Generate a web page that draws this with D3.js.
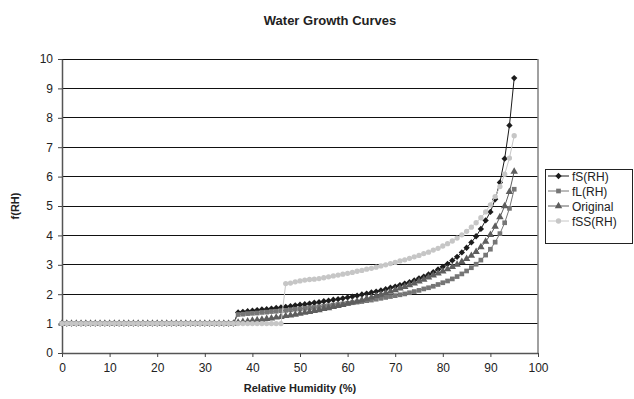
<!DOCTYPE html>
<html>
<head>
<meta charset="utf-8">
<script src="https://cdn.jsdelivr.net/npm/d3@7"></script>
<style>
  html, body { margin: 0; padding: 0; background: #ffffff; }
  svg { display: block; font-family: "Liberation Sans", Arial, sans-serif; }
</style>
</head>
<body>
<svg id="chart" width="634" height="399"></svg>
<script>
// Relative humidity (%) at which each growth factor is tabulated
const relHumidity = [
  0,1,2,3,4,5,6,7,8,9,10,11,12,13,14,15,16,17,18,19,
  20,21,22,23,24,25,26,27,28,29,30,31,32,33,34,35,36,37,38,39,
  40,41,42,43,44,45,46,47,48,49,50,51,52,53,54,55,56,57,58,59,
  60,61,62,63,64,65,66,67,68,69,70,71,72,73,74,75,76,77,78,79,
  80,81,82,83,84,85,86,87,88,89,90,91,92,93,94,95
];

// Small sulfate/nitrate growth factor
const fS = [
  1,1,1,1,1,1,1,1,1,1,1,1,1,1,1,1,1,1,1,1,1,1,1,1,1,1,1,1,1,1,1,1,1,1,1,1,1,
  1.38,1.40,1.42,1.44,1.46,1.48,1.49,1.51,1.53,1.55,1.57,1.59,1.62,1.64,1.66,1.68,
  1.71,1.73,1.76,1.78,1.81,1.83,1.86,1.89,1.92,1.95,1.99,2.02,2.06,2.09,2.13,2.17,
  2.22,2.26,2.31,2.36,2.41,2.47,2.54,2.60,2.67,2.75,2.84,2.93,3.03,3.15,3.27,3.42,
  3.58,3.76,3.97,4.22,4.51,4.80,5.23,5.80,6.61,7.74,9.35
];

// Large sulfate/nitrate growth factor
const fL = [
  1,1,1,1,1,1,1,1,1,1,1,1,1,1,1,1,1,1,1,1,1,1,1,1,1,1,1,1,1,1,1,1,1,1,1,1,1,
  1.31,1.32,1.34,1.35,1.36,1.38,1.39,1.41,1.42,1.44,1.45,1.47,1.49,1.50,1.52,1.54,
  1.55,1.57,1.59,1.61,1.63,1.65,1.67,1.69,1.71,1.73,1.75,1.78,1.80,1.83,1.86,1.89,
  1.92,1.95,1.98,2.01,2.05,2.09,2.13,2.18,2.22,2.27,2.33,2.39,2.45,2.52,2.60,2.69,
  2.79,2.90,3.02,3.16,3.33,3.53,3.77,4.06,4.43,4.92,5.57
];

// Original growth curve
const fOriginal = [
  1,1,1,1,1,1,1,1,1,1,1,1,1,1,1,1,1,1,1,1,1,1,1,1,1,1,1,1,1,1,1,1,1,1,1,1,1,
  1.04,1.06,1.08,1.10,1.12,1.14,1.16,1.18,1.21,1.23,1.26,1.28,1.31,1.34,1.37,1.40,
  1.43,1.46,1.50,1.53,1.57,1.60,1.64,1.68,1.72,1.76,1.80,1.85,1.89,1.94,1.99,2.04,
  2.09,2.14,2.20,2.25,2.31,2.37,2.44,2.50,2.57,2.64,2.71,2.78,2.85,2.93,3.01,3.10,
  3.20,3.31,3.44,3.60,3.79,4.02,4.30,4.62,5.00,5.48,6.17
];

// Sea salt growth factor
const fSS = [
  1,1,1,1,1,1,1,1,1,1,1,1,1,1,1,1,1,1,1,1,1,1,1,1,1,1,1,1,1,1,1,1,1,1,1,1,1,
  1,1,1,1,1,1,1,1,1,1,
  2.36,2.38,2.42,2.45,2.48,2.50,2.51,2.53,2.56,2.59,2.62,2.65,2.68,2.71,2.74,2.78,
  2.81,2.85,2.88,2.92,2.96,3.00,3.04,3.08,3.13,3.17,3.22,3.27,3.32,3.38,3.43,3.50,
  3.56,3.64,3.72,3.81,3.91,4.02,4.14,4.28,4.43,4.60,4.80,5.04,5.32,5.66,6.08,6.63,7.39
];

const seriesNames = ["fS(RH)", "fL(RH)", "Original", "fSS(RH)"];
const xTicks = [0,10,20,30,40,50,60,70,80,90,100];
const yTicks = [0,1,2,3,4,5,6,7,8,9,10];

// Square diamond (a square turned 45 degrees)
const squareDiamond = {
  draw(context, size) {
    const r = Math.sqrt(size / 2);
    context.moveTo(0, -r);
    context.lineTo(r, 0);
    context.lineTo(0, r);
    context.lineTo(-r, 0);
    context.closePath();
  }
};

const series = [
  { name: seriesNames[0], values: fS,        color: "#1c1c1c", symbol: squareDiamond,    size: 20 },
  { name: seriesNames[1], values: fL,        color: "#767676", symbol: d3.symbolSquare,   size: 22 },
  { name: seriesNames[2], values: fOriginal, color: "#5e5e5e", symbol: d3.symbolTriangle, size: 24 },
  { name: seriesNames[3], values: fSS,       color: "#c6c6c6", symbol: d3.symbolCircle,   size: 22 }
];

const svg = d3.select("#chart");
const plot = { left: 62, right: 538, top: 59, bottom: 353 };

const x = d3.scaleLinear().domain([0, 100]).range([plot.left, plot.right]);
const y = d3.scaleLinear().domain([0, 10]).range([plot.bottom, plot.top]);

// Title
svg.append("text")
  .attr("x", 330).attr("y", 25)
  .attr("text-anchor", "middle")
  .attr("font-size", 13).attr("font-weight", "bold")
  .attr("fill", "#222")
  .text("Water Growth Curves");

// Horizontal gridlines
svg.append("g")
  .selectAll("line")
  .data(yTicks.filter(t => t > 0))
  .join("line")
  .attr("x1", plot.left).attr("x2", plot.right)
  .attr("y1", d => y(d)).attr("y2", d => y(d))
  .attr("stroke", "#111").attr("stroke-width", 1)
  .attr("shape-rendering", "crispEdges");

// Right edge of plot area
svg.append("line")
  .attr("x1", plot.right).attr("x2", plot.right)
  .attr("y1", plot.top).attr("y2", plot.bottom)
  .attr("stroke", "#808080").attr("stroke-width", 1.5);

// Axes
const xAxis = svg.append("g")
  .attr("transform", `translate(0,${plot.bottom})`)
  .call(d3.axisBottom(x).tickValues(xTicks).tickSize(4).tickPadding(6).tickSizeOuter(0));
const yAxis = svg.append("g")
  .attr("transform", `translate(${plot.left},0)`)
  .call(d3.axisLeft(y).tickValues(yTicks).tickSize(4).tickPadding(5).tickSizeOuter(0));

[xAxis, yAxis].forEach(g => {
  g.select(".domain").attr("stroke", "#555").attr("stroke-width", 1.5);
  g.selectAll(".tick line").attr("stroke", "#444");
  g.selectAll(".tick text")
    .attr("font-family", "'Liberation Sans', Arial, sans-serif")
    .attr("font-size", 12).attr("fill", "#222");
});

// Axis titles
svg.append("text")
  .attr("x", 300).attr("y", 392)
  .attr("text-anchor", "middle")
  .attr("font-size", 11).attr("font-weight", "bold").attr("fill", "#222")
  .text("Relative Humidity (%)");
svg.append("text")
  .attr("transform", "translate(19,206) rotate(-90)")
  .attr("text-anchor", "middle")
  .attr("font-size", 11).attr("font-weight", "bold").attr("fill", "#222")
  .text("f(RH)");

// Series lines and markers
const line = d3.line()
  .x((d, i) => x(relHumidity[i]))
  .y(d => y(d));

series.forEach(s => {
  const g = svg.append("g");
  g.append("path")
    .datum(s.values)
    .attr("d", line)
    .attr("fill", "none")
    .attr("stroke", s.color)
    .attr("stroke-width", 1);
  g.selectAll("path.marker")
    .data(s.values)
    .join("path")
    .attr("class", "marker")
    .attr("transform", (d, i) => `translate(${x(relHumidity[i])},${y(d)})`)
    .attr("d", d3.symbol().type(s.symbol).size(s.size))
    .attr("fill", s.color);
});

// Legend
const legend = svg.append("g").attr("transform", "translate(545,169)");
legend.append("rect")
  .attr("x", 0.5).attr("y", 0.5)
  .attr("width", 87).attr("height", 74)
  .attr("fill", "#fff").attr("stroke", "#222").attr("stroke-width", 1);

const item = legend.selectAll("g.item")
  .data(series)
  .join("g")
  .attr("class", "item")
  .attr("transform", (d, i) => `translate(0,${7 + i * 15})`);
item.append("line")
  .attr("x1", 3).attr("x2", 24)
  .attr("y1", 0).attr("y2", 0)
  .attr("stroke", d => d.color).attr("stroke-width", 1);
item.append("path")
  .attr("transform", "translate(13.5,0)")
  .attr("d", d => d3.symbol().type(d.symbol).size(d.size)())
  .attr("fill", d => d.color);
item.append("text")
  .attr("x", 27).attr("y", 4.5)
  .attr("font-size", 12).attr("fill", "#222")
  .text(d => d.name);
</script>
</body>
</html>
